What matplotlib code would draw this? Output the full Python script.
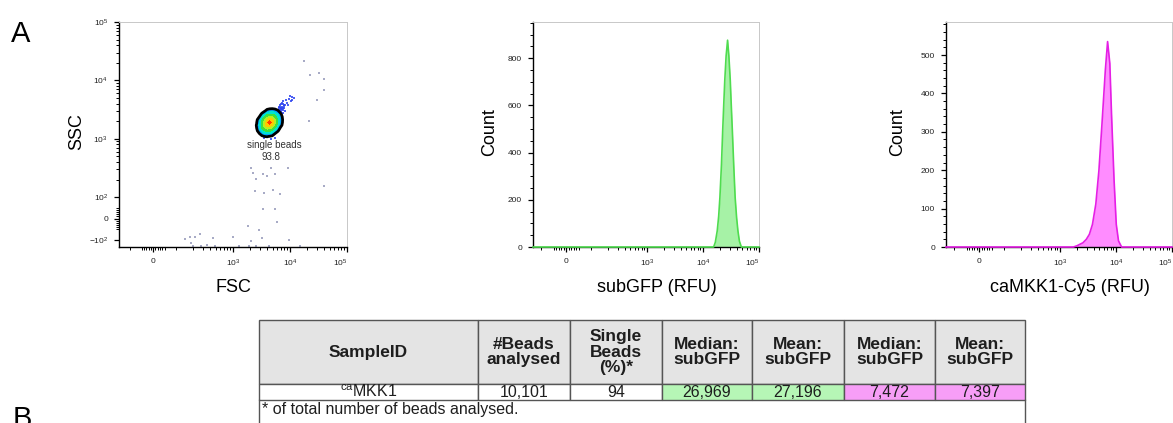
import numpy as np
import matplotlib
matplotlib.use('Agg')
import matplotlib.pyplot as plt
from matplotlib.ticker import MultipleLocator

plt.rcParams['font.family'] = ['Liberation Sans', 'DejaVu Sans']
plt.rcParams['mathtext.default'] = 'regular'

# ------------------------------------------------------------------ data
# Panel A1: FSC/SSC pseudocolour plot
# density of single-bead cluster on a log10 grid (relative, 0-100)
cluster_fsc_log10 = [3.369, 3.415, 3.461, 3.507, 3.553, 3.599, 3.645, 3.691,
                     3.737, 3.783, 3.829, 3.875, 3.921]
cluster_ssc_log10 = [2.992, 3.040, 3.088, 3.136, 3.184, 3.232, 3.280, 3.328,
                     3.376, 3.424, 3.472, 3.520, 3.568]
cluster_density = [
    [0, 0, 0, 0, 0, 0, 0, 0, 0, 0, 0, 0, 0],
    [0, 0, 0, 2, 6, 7, 5, 2, 0, 0, 0, 0, 0],
    [0, 0, 5, 17, 27, 31, 28, 19, 6, 1, 0, 0, 0],
    [0, 2, 17, 35, 46, 52, 50, 42, 28, 8, 1, 0, 0],
    [0, 6, 27, 46, 62, 71, 71, 62, 46, 26, 5, 0, 0],
    [0, 7, 31, 52, 71, 88, 90, 79, 60, 40, 15, 1, 0],
    [0, 5, 28, 50, 71, 90, 100, 88, 68, 46, 23, 3, 0],
    [0, 2, 19, 42, 62, 79, 88, 82, 66, 46, 24, 4, 0],
    [0, 0, 6, 28, 46, 60, 68, 66, 55, 40, 19, 2, 0],
    [0, 0, 1, 8, 26, 40, 46, 46, 40, 27, 9, 1, 0],
    [0, 0, 0, 1, 5, 15, 23, 24, 19, 9, 2, 0, 0],
    [0, 0, 0, 0, 0, 1, 3, 4, 2, 1, 0, 0, 0],
    [0, 0, 0, 0, 0, 0, 0, 0, 0, 0, 0, 0, 0],
]
# doublet events and events round the cluster (log10 FSC, log10 SSC)
doublet_fsc_log10 = [3.80, 3.83, 3.86, 3.88, 3.82, 3.85, 3.89, 3.84, 3.87, 3.81,
                     3.90, 3.86, 3.83, 3.92, 3.79, 3.88, 3.85, 3.91, 3.84, 3.87,
                     3.95, 3.98, 4.01, 4.04, 4.07, 3.97, 4.00, 4.03, 3.93, 3.78,
                     3.86, 3.82, 3.89, 3.84, 3.87, 3.81,
                     3.74, 3.78, 3.47, 3.52, 3.74, 3.66, 3.55, 3.80, 3.60, 3.50]
doublet_ssc_log10 = [3.52, 3.49, 3.55, 3.50, 3.58, 3.46, 3.56, 3.60, 3.44, 3.55,
                     3.52, 3.62, 3.41, 3.57, 3.48, 3.65, 3.53, 3.47, 3.51, 3.59,
                     3.62, 3.68, 3.64, 3.72, 3.70, 3.58, 3.74, 3.67, 3.66, 3.40,
                     3.51, 3.54, 3.58, 3.47, 3.53, 3.50,
                     3.10, 3.18, 3.32, 3.06, 3.02, 3.00, 3.01, 3.26, 3.46, 3.40]
# sparse debris events (raw units)
debris_fsc = [17400, 39800, 39800, 30200, 21400, 39800, 9300, 2040, 2290, 2510,
              3390, 3980, 4570, 5370, 2450, 3550, 5130, 6760, 3390, 5370,
              6030, 1820, 2880, 3240, 2090, 9770, 1000, 440, 215, 178,
              145, 186, 480, 200, 280, 345, 1300, 1950, 2500, 4250,
              15000, 260, 32400, 22900]
debris_ssc = [21400, 10500, 6760, 4680, 2040, 158, 316, 316, 263, 204,
              251, 234, 316, 251, 129, 117, 135, 115, 46, 46,
              -17, -36, -55, -92, -103, -100, -88, -92, -85, -88,
              -97, -112, -125, -126, -126, -124, -126, -126, -127, -126,
              -127, -70, 13200, 12300]
gate_name = 'single beads'
gate_pct = '93.8'

# Panel A2/A3: histograms (log10 RFU, count)
gfp_log10 = [4.19, 4.22, 4.254, 4.28, 4.302, 4.33, 4.352, 4.37, 4.389, 4.413,
             4.439, 4.462, 4.487, 4.505, 4.524, 4.55, 4.574, 4.60, 4.624, 4.65,
             4.685]
gfp_count = [0, 20, 68, 130, 210, 350, 494, 600, 706, 810,
             876, 810, 706, 600, 494, 340, 210, 125, 68, 25, 0]
cy5_log10 = [3.24, 3.30, 3.41, 3.47, 3.525, 3.58, 3.64, 3.695, 3.75, 3.81,
             3.85, 3.89, 3.92, 3.966, 4.005, 4.045, 4.10]
cy5_count = [0, 3, 11, 20, 33, 59, 112, 199, 321, 461,
             535, 478, 347, 173, 59, 16, 0]

# Panel table
table_header = ['SampleID', '#Beads\nanalysed', 'Single\nBeads\n(%)*',
                'Median:\nsubGFP', 'Mean:\nsubGFP', 'Median:\nsubGFP', 'Mean:\nsubGFP']
table_row = [r'$^{ca}$MKK1', '10,101', '94', '26,969', '27,196', '7,472', '7,397']
footnote = '* of total number of beads analysed.'

# ------------------------------------------------------------------ style
W, H = 1173, 423
GREEN_LINE = '#4fdc4f'
GREEN_FILL = '#a6f2a6'
PINK_LINE = '#e51fe5'
PINK_FILL = '#ff8cff'
GREEN_CELL = '#b6f6b6'
PINK_CELL = '#f79ef7'
HEADER_CELL = '#e4e4e4'
EDGE = '#555555'

fig = plt.figure(figsize=(W / 100, H / 100), dpi=100)


def px_axes(l, r, t, b):
    return fig.add_axes([l / W, (H - b) / H, (r - l) / W, (b - t) / H])


def minor_biex():
    m = [-100, -50, -40, -30, -20, -10, 10, 20, 30, 40, 50, 100]
    for dec in (100, 1000, 10000):
        m += [k * dec for k in range(2, 10)]
    return m


def style_box(ax):
    for s in ('left', 'bottom'):
        ax.spines[s].set_color('black')
        ax.spines[s].set_linewidth(1.0)
    for s in ('top', 'right'):
        ax.spines[s].set_color('#c8c8c8')
        ax.spines[s].set_linewidth(0.7)
    ax.tick_params(which='major', direction='out', length=3.5, width=0.9,
                   labelsize=6, pad=4.5, colors='black', labelcolor='#222222')
    ax.tick_params(which='minor', direction='out', length=2.2, width=0.7)
    ax.tick_params(top=False, right=False, which='both')


def biex_x(ax, linscale, lo):
    ax.set_xscale('symlog', linthresh=100, linscale=linscale)
    ax.set_xlim(lo, 1e5)
    ax.set_xticks([0, 1e3, 1e4, 1e5], ['0', '$10^3$', '$10^4$', '$10^5$'])
    ax.set_xticks([v for v in minor_biex() if lo <= v <= 1e5], minor=True)
    ax.get_xticklabels()[-1].set_horizontalalignment('right')


# ------------------------------------------------------------------ scatter
ax1 = px_axes(119, 347, 22, 247)
biex_x(ax1, 0.36, -158)
ax1.set_yscale('symlog', linthresh=100, linscale=0.33)
ax1.set_ylim(-132, 1e5)
ax1.set_yticks([-100, 0, 100, 1e3, 1e4, 1e5],
               ['$-10^2$', '0', '$10^2$', '$10^3$', '$10^4$', '$10^5$'])
ax1.set_yticks([v for v in minor_biex() if -132 <= v <= 1e5], minor=True)
style_box(ax1)

ax1.scatter(debris_fsc, debris_ssc, s=2.0, marker='s', color='#a8abc6',
            linewidths=0, zorder=2)
ax1.scatter(10 ** np.array(doublet_fsc_log10), 10 ** np.array(doublet_ssc_log10),
            s=3.0, marker='s', color='#3046f0', linewidths=0, alpha=0.85, zorder=3)
CX, CY = np.meshgrid(10 ** np.array(cluster_fsc_log10), 10 ** np.array(cluster_ssc_log10))
Z = np.array(cluster_density, dtype=float)
levels = [6, 14, 28, 46, 64, 80, 93, 101]
ccols = ['#1c1cff', '#00a8ff', '#00e4d0', '#3ee03e', '#b4f020', '#ffc800', '#ff3c00']
ax1.contourf(CX, CY, Z, levels=levels, colors=ccols, zorder=4)
ax1.contour(CX, CY, Z, levels=[6], colors='black', linewidths=2.0, zorder=5)
ax1.text(0.68, 0.453, gate_name, transform=ax1.transAxes, ha='center', va='center',
         fontsize=7, color='#333333')
ax1.text(0.667, 0.40, gate_pct, transform=ax1.transAxes, ha='center', va='center',
         fontsize=7, color='#333333')

fig.text(77 / W, 1 - 132 / H, 'SSC', rotation=90, ha='center', va='center', fontsize=13)
fig.text(233 / W, 1 - 287 / H, 'FSC', ha='center', va='center', fontsize=13)


# ------------------------------------------------------------------ histograms
def hist_panel(l, r, logs, counts, ymax, major, minor, lc, fc, xlabel, xlab_px, ylab_px):
    ax = px_axes(l, r, 22, 247)
    biex_x(ax, 0.40, -140)
    ax.set_ylim(0, ymax)
    ax.yaxis.set_major_locator(MultipleLocator(major))
    ax.yaxis.set_minor_locator(MultipleLocator(minor))
    style_box(ax)
    lo, hi = ax.get_xlim()
    x = np.concatenate([[lo], 10 ** np.array(logs), [hi]])
    y = np.concatenate([[0], counts, [0]])
    ax.fill_between(x, 0, y, color=fc, linewidth=0, zorder=2)
    ax.plot(x, y, color=lc, linewidth=1.2, zorder=3, clip_on=False)
    fig.text(ylab_px / W, 1 - 132 / H, 'Count', rotation=90, ha='center',
             va='center', fontsize=13)
    fig.text(xlab_px / W, 1 - 287 / H, xlabel, ha='center', va='center', fontsize=13)
    return ax


hist_panel(533, 759, gfp_log10, gfp_count, 953, 200, 50, GREEN_LINE, GREEN_FILL,
           'subGFP (RFU)', 657, 490)
hist_panel(946, 1172, cy5_log10, cy5_count, 586, 100, 20, PINK_LINE, PINK_FILL,
           'caMKK1-Cy5 (RFU)', 1070, 898)

# ------------------------------------------------------------------ panel letters
fig.text(11 / W, (H - 42) / H, 'A', fontsize=21, va='baseline', ha='left')
fig.text(13 / W, (H - 427) / H, 'B', fontsize=21, va='baseline', ha='left')

# ------------------------------------------------------------------ table
col_px = [219, 92, 92, 90, 92, 91, 90]
tax = px_axes(259, 1025, 320, 423)
tax.set_xlim(0, 1)
tax.set_ylim(0, 1)
tax.axis('off')
row_colors = ['white', 'white', 'white', GREEN_CELL, GREEN_CELL, PINK_CELL, PINK_CELL]
tbl = tax.table(cellText=[table_row], colLabels=table_header,
                colWidths=[c / sum(col_px) for c in col_px],
                cellColours=[row_colors], colColours=[HEADER_CELL] * 7,
                cellLoc='center', colLoc='center',
                bbox=[0, 23 / 103, 1, 80 / 103])
tbl.auto_set_font_size(False)
for (r, c), cell in tbl.get_celld().items():
    cell.set_edgecolor(EDGE)
    cell.set_linewidth(1.0)
    t = cell.get_text()
    if r == 0:
        cell.set_height(0.8)
        t.set_fontweight('bold')
        t.set_fontsize(12.5)
        t.set_linespacing(1.08)
        t.set_color('#1e1e1e')
    else:
        cell.set_height(0.2)
        t.set_fontsize(11.5)
        t.set_color('#1e1e1e')
tax.plot([0, 0], [0, 23 / 103], color=EDGE, linewidth=1.0, clip_on=False)
tax.plot([1, 1], [0, 23 / 103], color=EDGE, linewidth=1.0, clip_on=False)
tax.text(3 / 766, 14 / 103, footnote, fontsize=11.5, va='center', ha='left',
         color='#1e1e1e')

fig.savefig('out.png', dpi=100)
